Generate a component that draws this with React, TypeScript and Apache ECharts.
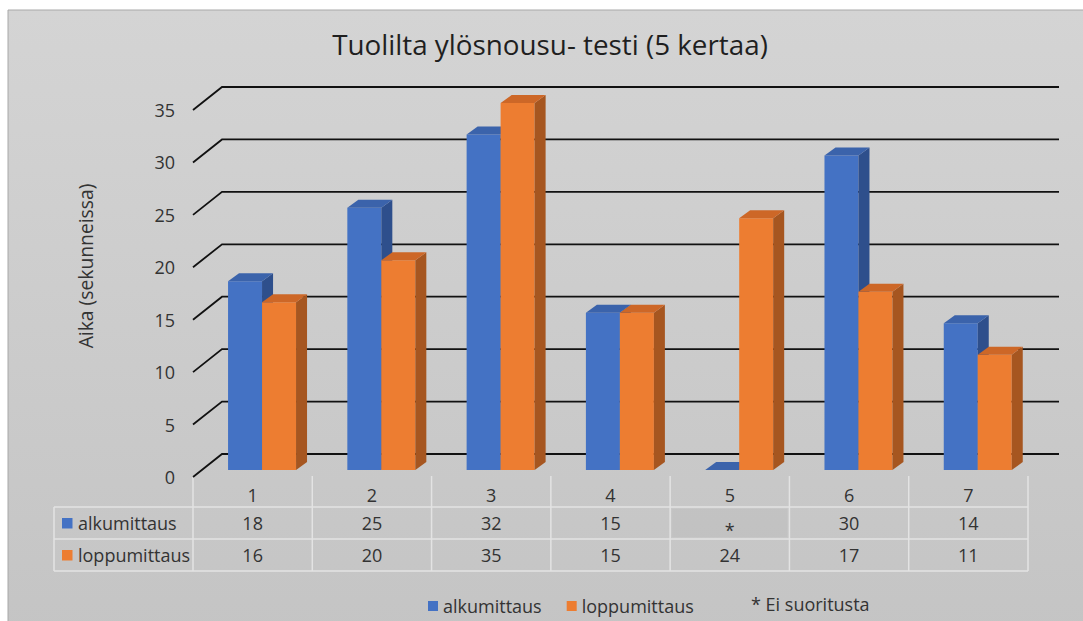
import React, { useEffect, useRef } from "react";
import * as echarts from "echarts";

// ---- data ----
const categories = ["1", "2", "3", "4", "5", "6", "7"];
const alkumittaus: (number | null)[] = [18, 25, 32, 15, null, 30, 14];
const loppumittaus: number[] = [16, 20, 35, 15, 24, 17, 11];
const yTicks = [0, 5, 10, 15, 20, 25, 30, 35];
const seriesNames = ["alkumittaus", "loppumittaus"];
const titleText = "Tuolilta ylösnousu- testi (5 kertaa)";
const yAxisTitle = "Aika (sekunneissa)";
const footnote = "* Ei suoritusta";
const missingMark = "*";

// ---- styles / layout ----
const FONT = "'Open Sans', 'Noto Sans', sans-serif";
const TXT = "#333333";
const BLUE = { front: "#4472c4", top: "#3b63ab", side: "#2e4f8c" };
const ORANGE = { front: "#ed7d31", top: "#cd6727", side: "#a65620" };
const GRID = { left: 193, right: 55, top: 110, bottom: 144 };
const W = 1083;
const H = 621;
const BACK_DX = 29;
const BACK_DY = -23;
const SHIFT_X = 9.4;
const SHIFT_Y = -7;
const DEPTH_X = 11;
const DEPTH_Y = -8;
const BAR_RATIO = 0.285;

function barRenderer(side: number, col: { front: string; top: string; side: string }) {
  return (params: any, api: any) => {
    const cat = api.value(0);
    const v = api.value(1);
    const base = api.coord([cat, 0]);
    const top = api.coord([cat, v]);
    const bw = api.size([1, 0])[0] * BAR_RATIO;
    const x0 = base[0] + SHIFT_X + (side === 0 ? -bw : 0);
    const x1 = x0 + bw;
    const yb = base[1] + SHIFT_Y;
    const yt = top[1] + SHIFT_Y;
    return {
      type: "group",
      children: [
        {
          type: "rect",
          shape: { x: x0, y: yt, width: bw, height: yb - yt },
          style: { fill: col.front },
        },
        {
          type: "polygon",
          shape: {
            points: [
              [x1, yt],
              [x1 + DEPTH_X, yt + DEPTH_Y],
              [x1 + DEPTH_X, yb + DEPTH_Y],
              [x1, yb],
            ],
          },
          style: { fill: col.side },
        },
        {
          type: "polygon",
          shape: {
            points: [
              [x0, yt],
              [x0 + DEPTH_X, yt + DEPTH_Y],
              [x1 + DEPTH_X, yt + DEPTH_Y],
              [x1, yt],
            ],
          },
          style: { fill: col.top },
        },
      ],
    };
  };
}

export default function App() {
  const ref = useRef<HTMLDivElement>(null);
  useEffect(() => {
    if (!ref.current) return;
    const chart = echarts.init(ref.current, undefined, { renderer: "svg" });
    const colW = (W - GRID.left - GRID.right) / categories.length;
    const tLeft = GRID.left;
    const tRight = W - GRID.right;
    const rowLines = [507, 539, 571];
    const legendCol = 54;

    const graphics: any[] = [
      {
        type: "rect",
        z: -10,
        silent: true,
        shape: { x: 8, y: 10, width: W + 10, height: H + 10 },
        style: {
          fill: new echarts.graphic.LinearGradient(0, 0, 0, 1, [
            { offset: 0, color: "#d4d4d4" },
            { offset: 1, color: "#c4c4c4" },
          ]),
          stroke: "#a8a8a8",
          lineWidth: 1,
        },
      },
    ];
    // table vertical lines
    for (let i = 0; i <= categories.length; i++) {
      const x = tLeft + i * colW;
      graphics.push({
        type: "line",
        silent: true,
        shape: { x1: x, y1: 476, x2: x, y2: 571 },
        style: { stroke: "#e3e3e3", lineWidth: 1.5 },
      });
    }
    graphics.push({
      type: "line",
      silent: true,
      shape: { x1: legendCol, y1: 507, x2: legendCol, y2: 571 },
      style: { stroke: "#e3e3e3", lineWidth: 1.5 },
    });
    rowLines.forEach((y) =>
      graphics.push({
        type: "line",
        silent: true,
        shape: { x1: legendCol, y1: y, x2: tRight, y2: y },
        style: { stroke: "#e3e3e3", lineWidth: 1.5 },
      })
    );
    // missing cell shading
    alkumittaus.forEach((v, i) => {
      if (v === null) {
        graphics.push({
          type: "rect",
          silent: true,
          shape: { x: tLeft + i * colW + 2, y: 509, width: colW - 4, height: 28 },
          style: { fill: "rgba(0,0,0,0.025)" },
        });
      }
    });
    // row keys
    [BLUE.front, ORANGE.front].forEach((c, r) => {
      const cy = r === 0 ? 523 : 555;
      graphics.push({
        type: "rect",
        silent: true,
        shape: { x: 62, y: cy - 5, width: 10.5, height: 10.5 },
        style: { fill: c },
      });
      graphics.push({
        type: "text",
        silent: true,
        style: {
          text: seriesNames[r],
          x: 78,
          y: cy,
          fill: TXT,
          fontSize: 18,
          fontFamily: FONT,
          textAlign: "left",
          textVerticalAlign: "middle",
        },
      });
    });
    graphics.push({
      type: "text",
      silent: true,
      x: 85,
      y: 266,
      rotation: Math.PI / 2,
      style: {
        text: yAxisTitle,
        fill: TXT,
        fontSize: 19.3,
        fontFamily: FONT,
        textAlign: "center",
        textVerticalAlign: "middle",
      },
    });
    graphics.push({
      type: "text",
      silent: true,
      style: {
        text: footnote,
        x: 751,
        y: 604,
        fill: TXT,
        fontSize: 18,
        fontFamily: FONT,
        textAlign: "left",
        textVerticalAlign: "middle",
      },
    });

    const labelStyle = { fontSize: 18, color: TXT, fontFamily: FONT, interval: 0 };
    const hiddenAxis = {
      axisLine: { show: false },
      axisTick: { show: false },
      splitLine: { show: false },
    };

    chart.setOption({
      animation: false,
      backgroundColor: "#ffffff",
      title: {
        text: titleText,
        left: 550,
        top: 30,
        padding: 0,
        textAlign: "center",
        textStyle: { fontSize: 27.8, fontWeight: "normal", color: "#1f1f1f", fontFamily: FONT },
      },
      legend: {
        data: seriesNames,
        left: 428,
        top: 597,
        padding: 0,
        itemWidth: 10,
        itemHeight: 10,
        itemGap: 25,
        icon: "rect",
        textStyle: { fontSize: 18, color: TXT, fontFamily: FONT },
      },
      grid: { ...GRID, containLabel: false },
      xAxis: [
        {
          type: "category",
          data: categories,
          position: "bottom",
          ...hiddenAxis,
          axisLabel: { ...labelStyle, margin: 9 },
        },
        {
          type: "category",
          data: alkumittaus.map((v) => (v === null ? missingMark : String(v))),
          position: "bottom",
          offset: 28,
          ...hiddenAxis,
          axisLabel: {
            ...labelStyle,
            margin: 9,
            formatter: (v: string) => (v === missingMark ? "{m|" + v + "}" : v),
            rich: { m: { fontSize: 18, color: TXT, fontFamily: FONT, padding: [7, 0, 0, 0] } },
          },
        },
        {
          type: "category",
          data: loppumittaus.map((v) => String(v)),
          position: "bottom",
          offset: 60,
          ...hiddenAxis,
          axisLabel: { ...labelStyle, margin: 9 },
        },
      ],
      yAxis: {
        type: "value",
        min: 0,
        max: 35,
        interval: 5,
        ...hiddenAxis,
        axisLabel: { fontSize: 18, color: TXT, fontFamily: FONT, margin: 18 },
      },
      graphic: graphics,
      series: [
        {
          type: "custom",
          name: "grid",
          silent: true,
          z: 1,
          xAxisIndex: 0,
          yAxisIndex: 0,
          data: yTicks.map((v) => [0, v]),
          renderItem: (params: any, api: any) => {
            const p = api.coord([0, api.value(1)]);
            const cs = params.coordSys;
            const x0 = cs.x;
            const x1 = cs.x + cs.width;
            const y = p[1];
            return {
              type: "polyline",
              shape: {
                points: [
                  [x0, y],
                  [x0 + BACK_DX, y + BACK_DY],
                  [x1 + BACK_DX + 2, y + BACK_DY],
                ],
              },
              style: { stroke: "#111111", lineWidth: 1.8, fill: "none" },
            };
          },
        },
        {
          type: "custom",
          name: seriesNames[0],
          z: 2,
          xAxisIndex: 0,
          yAxisIndex: 0,
          itemStyle: { color: BLUE.front },
          data: alkumittaus.map((v, i) => [i, v === null ? 0 : v]),
          renderItem: barRenderer(0, BLUE),
        },
        {
          type: "custom",
          name: seriesNames[1],
          z: 3,
          xAxisIndex: 0,
          yAxisIndex: 0,
          itemStyle: { color: ORANGE.front },
          data: loppumittaus.map((v, i) => [i, v]),
          renderItem: barRenderer(1, ORANGE),
        },
      ],
    });
    return () => chart.dispose();
  }, []);
  return (
    <div
      ref={ref}
      style={{ position: "fixed", left: 0, top: 0, width: W, height: H }}
    />
  );
}
